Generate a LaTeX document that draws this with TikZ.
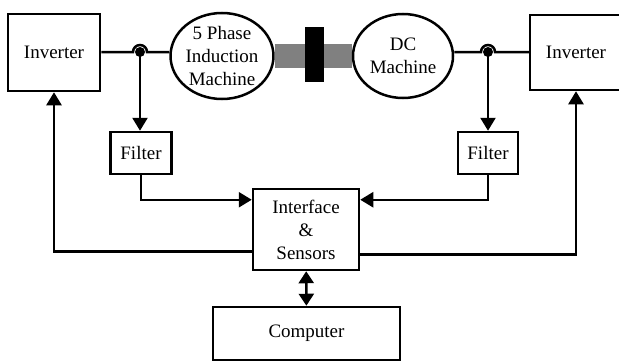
\documentclass[tikz,border=0pt]{standalone}
\usepackage{fontspec}
\setmainfont{Liberation Serif}
\usetikzlibrary{arrows.meta,shapes.geometric,positioning,backgrounds}
\tikzset{
  basic/.style   = {draw, line width=2.5pt, font=\fontsize{19}{23}\selectfont,
                    align=center, inner sep=0pt},
  block/.style   = {basic, rectangle},
  machine/.style = {basic, ellipse, minimum width=95pt, minimum height=86pt},
  wire/.style    = {line width=2.5pt},
  sig/.style     = {wire, -{Triangle[length=13pt,width=15pt]}}
}

\begin{document}
\begin{tikzpicture}[x=1pt,y=-1pt]
\useasboundingbox (0,0) rectangle (619,364);

% power stage: inverters and the two machines
\node[block, minimum width=92pt, minimum height=77pt] (invL) at (54,52.5) {Inverter};
\node[block, minimum width=92pt, minimum height=75pt] (invR) at (576,52.5) {Inverter};
\node[machine] (im) at (222,56) {5 Phase\\Induction\\Machine};
\node[machine, minimum width=100pt, minimum height=84pt] (dc) at (403,56) {DC\\Machine};

% shaft and coupling
\begin{pgfonlayer}{background}
  \draw[gray, line width=24pt] (im.east) -- (dc.west);
\end{pgfonlayer}
\node[fill=black, minimum width=19pt, minimum height=55pt, inner sep=0pt] (cpl) at (314.5,54.5) {};

% measurement side
\node[block, minimum width=61pt, minimum height=42pt] (filterL) at (141,153) {Filter};
\node[block, minimum width=60pt, minimum height=42pt] (filterR) at (488,153) {Filter};
\node[block, minimum width=106pt, minimum height=81pt] (iface) at (306,229.5) {Interface\\\&\\Sensors};
\node[block, minimum width=187pt, minimum height=53pt] (comp) at (306.5,333.5) {Computer};

\coordinate (jL) at (140,52);
\coordinate (jR) at (488,52);

% phase lines with hops
\draw[wire] (invL.east |- jL) -- ([xshift=-7pt]jL) arc[start angle=180, end angle=0, radius=7pt] -- (jL -| im.west);
\draw[wire] (dc.east |- jR) -- ([xshift=-7pt]jR) arc[start angle=180, end angle=0, radius=7pt] -- (invR.west |- jR);
\fill (jL) circle[radius=5pt];
\fill (jR) circle[radius=5pt];

% signals
\draw[sig] (jL) -- (jL |- filterL.north);
\draw[sig] (jR) -- (jR |- filterR.north);
\draw[sig] (filterL.south) |- ([yshift=-12pt]iface.north west);
\draw[sig] (filterR.south) |- ([yshift=-12pt]iface.north east);
\draw[sig] ([yshift=20pt]iface.south west) -| (invL.south);
\draw[sig] ([yshift=17pt]iface.south east) -| (invR.south);
\draw[wire, {Triangle[length=12pt,width=15pt]}-{Triangle[length=12pt,width=15pt]}] (iface) -- (comp);

\end{tikzpicture}
\end{document}
